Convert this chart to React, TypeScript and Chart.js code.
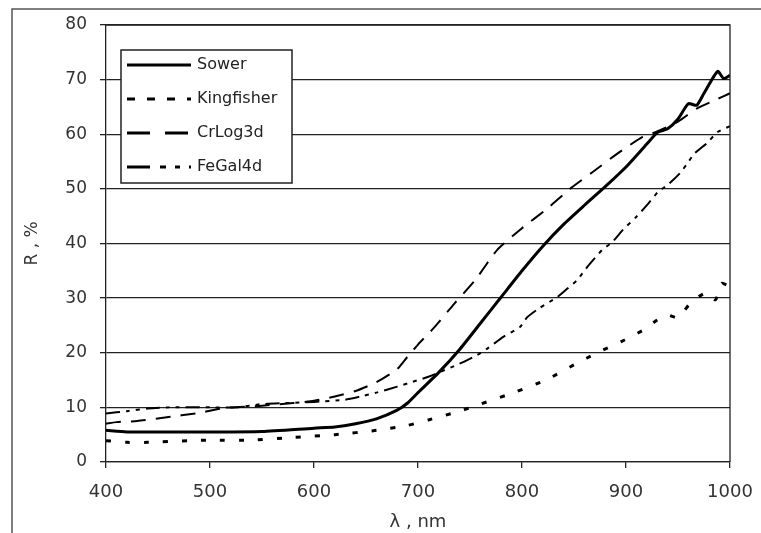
import React, { useEffect, useRef } from "react";
import { Chart, registerables } from "chart.js";

Chart.register(...registerables);

// ---------- data ----------
const sowerX = [400, 420, 450, 500, 550, 600, 620, 640, 660, 680, 690, 700, 720, 740, 760, 780, 800, 820, 840, 860, 880, 900, 920, 930, 940, 950, 960, 968, 975, 988, 994, 1000];
const sowerY = [5.8, 5.5, 5.5, 5.5, 5.6, 6.2, 6.4, 7.0, 7.9, 9.5, 10.8, 12.7, 16.4, 20.6, 25.4, 30.2, 35.0, 39.5, 43.5, 47.0, 50.4, 54.0, 58.2, 60.3, 61.0, 62.8, 65.6, 65.3, 67.5, 71.5, 70.2, 70.8];

const kingX = [400, 420, 440, 480, 500, 540, 580, 620, 660, 690, 710, 740, 760, 795, 825, 850, 862, 878, 895, 918, 930, 940, 950, 961, 970, 978, 986, 992, 1000];
const kingY = [3.9, 3.6, 3.6, 3.9, 4.0, 4.0, 4.5, 5.0, 5.8, 6.7, 7.7, 9.3, 10.6, 12.9, 15.2, 17.8, 19.0, 20.5, 22.0, 24.3, 26.0, 26.9, 26.4, 28.9, 30.3, 31.0, 29.7, 32.7, 32.1];

const crX = [400, 410, 430, 455, 490, 515, 550, 580, 600, 620, 640, 660, 680, 690, 700, 715, 735, 755, 776, 800, 825, 846, 868, 892, 916, 930, 950, 968, 985, 1000];
const crY = [7.0, 7.3, 7.5, 8.1, 9.0, 9.9, 10.3, 10.8, 11.2, 12.0, 13.0, 14.6, 17.0, 19.3, 21.5, 24.5, 29.0, 33.3, 38.8, 42.8, 46.5, 50.0, 53.1, 56.5, 59.5, 60.5, 62.3, 64.7, 66.2, 67.5];

const feX = [400, 420, 440, 460, 500, 525, 550, 575, 600, 630, 645, 660, 680, 695, 710, 740, 757, 767, 782, 798, 805, 817, 834, 844, 853, 864, 877, 887, 897, 910, 921, 931, 940, 952, 958, 966, 978, 988, 1000];
const feY = [8.9, 9.3, 9.8, 10.0, 10.0, 10.0, 10.6, 10.8, 11.0, 11.4, 12.0, 12.7, 13.8, 14.7, 15.6, 18.0, 19.6, 20.8, 22.9, 24.7, 26.5, 28.2, 30.2, 31.8, 33.3, 36.0, 38.8, 40.3, 42.5, 44.9, 47.2, 49.5, 50.7, 52.9, 54.4, 56.5, 58.4, 60.4, 61.5];

const seriesNames = ["Sower", "Kingfisher", "CrLog3d", "FeGal4d"];
const xTicks = [400, 500, 600, 700, 800, 900, 1000];
const yTicks = [0, 10, 20, 30, 40, 50, 60, 70, 80];

const pts = (xs: number[], ys: number[]) => xs.map((x, i) => ({ x, y: ys[i] }));

const FONT = "'DejaVu Sans', sans-serif";

const framePlugin = {
  id: "frame",
  beforeDraw(chart: any) {
    const ctx = chart.ctx;
    ctx.save();
    ctx.fillStyle = "#fff";
    ctx.fillRect(0, 0, chart.width, chart.height);
    ctx.strokeStyle = "#555";
    ctx.lineWidth = 1.5;
    ctx.beginPath();
    ctx.moveTo(12, chart.height);
    ctx.lineTo(12, 9);
    ctx.lineTo(chart.width, 9);
    ctx.stroke();
    ctx.restore();
  },
  afterDraw(chart: any) {
    const ctx = chart.ctx;
    const a = chart.chartArea;
    ctx.save();
    ctx.strokeStyle = "#222";
    ctx.lineWidth = 1.3;
    ctx.beginPath();
    ctx.moveTo(a.left, a.top);
    ctx.lineTo(a.right, a.top);
    ctx.lineTo(a.right, a.bottom);
    ctx.stroke();

    // legend box
    const bx = 121, by = 50, bw = 171, bh = 133;
    ctx.fillStyle = "#fff";
    ctx.fillRect(bx, by, bw, bh);
    ctx.strokeStyle = "#222";
    ctx.lineWidth = 1.5;
    ctx.strokeRect(bx, by, bw, bh);
    const rows = [65, 99, 133, 167];
    chart.data.datasets.forEach((ds: any, i: number) => {
      const y = rows[i];
      ctx.save();
      ctx.strokeStyle = "#000";
      ctx.lineWidth = ds.legendWidth;
      ctx.setLineDash(ds.legendDash);
      ctx.beginPath();
      ctx.moveTo(127, y);
      ctx.lineTo(191, y);
      ctx.stroke();
      ctx.restore();
      ctx.fillStyle = "#222";
      ctx.font = `16px ${FONT}`;
      ctx.textAlign = "left";
      ctx.textBaseline = "middle";
      ctx.fillText(ds.label, 197, y);
    });
    ctx.restore();
  },
};

export default function App() {
  const ref = useRef<HTMLCanvasElement | null>(null);
  useEffect(() => {
    document.body.style.margin = "0";
    const chart = new Chart(ref.current as HTMLCanvasElement, {
      type: "line",
      data: {
        datasets: [
          {
            label: seriesNames[0],
            data: pts(sowerX, sowerY),
            borderColor: "#000",
            borderWidth: 3,
            pointRadius: 0,
            tension: 0.2,
            legendDash: [],
            legendWidth: 3,
          } as any,
          {
            label: seriesNames[1],
            data: pts(kingX, kingY),
            borderColor: "#000",
            borderWidth: 3,
            borderDash: [5, 14],
            pointRadius: 0,
            tension: 0.2,
            legendDash: [8, 12],
            legendWidth: 3,
          } as any,
          {
            label: seriesNames[2],
            data: pts(crX, crY),
            borderColor: "#000",
            borderWidth: 2,
            borderDash: [15, 10],
            pointRadius: 0,
            tension: 0.2,
            legendDash: [23, 15],
            legendWidth: 3,
          } as any,
          {
            label: seriesNames[3],
            data: pts(feX, feY),
            borderColor: "#000",
            borderWidth: 2,
            borderDash: [14, 6, 4, 6, 4, 6],
            pointRadius: 0,
            tension: 0.2,
            legendDash: [23, 10, 6, 9, 5, 9],
            legendWidth: 3,
          } as any,
        ],
      },
      options: {
        responsive: false,
        animation: false,
        layout: { padding: { left: 0, top: 25, right: 31, bottom: 0 } },
        plugins: { legend: { display: false }, tooltip: { enabled: false } },
        scales: {
          x: {
            type: "linear",
            min: 400,
            max: 1000,
            afterFit: (s: any) => {
              s.height = 71;
              s.paddingLeft = 0;
              s.paddingRight = 0;
            },
            afterBuildTicks: (s: any) => {
              s.ticks = xTicks.map((v) => ({ value: v }));
            },
            ticks: {
              color: "#333",
              font: { family: FONT, size: 18 },
              padding: 14,
              maxRotation: 0,
              callback: (v: any) => String(v),
            },
            grid: {
              drawOnChartArea: false,
              drawTicks: true,
              tickLength: 6,
              color: "#222",
              lineWidth: 1.3,
            },
            border: { display: true, color: "#222", width: 1.3 },
            title: {
              display: true,
              text: "λ , nm",
              color: "#333",
              font: { family: FONT, size: 18 },
              padding: { top: 0, bottom: 0 },
            },
          },
          y: {
            type: "linear",
            min: 0,
            max: 80,
            afterFit: (s: any) => {
              s.width = 106;
              s.paddingTop = 0;
              s.paddingBottom = 0;
            },
            afterBuildTicks: (s: any) => {
              s.ticks = yTicks.map((v) => ({ value: v }));
            },
            ticks: {
              color: "#333",
              font: { family: FONT, size: 17 },
              padding: 13,
              callback: (v: any) => String(v),
            },
            grid: {
              drawOnChartArea: true,
              drawTicks: true,
              tickLength: 6,
              color: "#222",
              lineWidth: 1.3,
            },
            border: { display: true, color: "#222", width: 1.3 },
            title: {
              display: true,
              text: "R , %",
              color: "#333",
              font: { family: FONT, size: 17 },
              padding: { top: 22, bottom: 0 },
            },
          },
        },
      },
      plugins: [framePlugin],
    } as any);
    return () => chart.destroy();
  }, []);
  return (
    <div style={{ position: "absolute", left: 0, top: 0, width: 761, height: 533 }}>
      <canvas ref={ref} width={761} height={533} style={{ display: "block" }} />
    </div>
  );
}
